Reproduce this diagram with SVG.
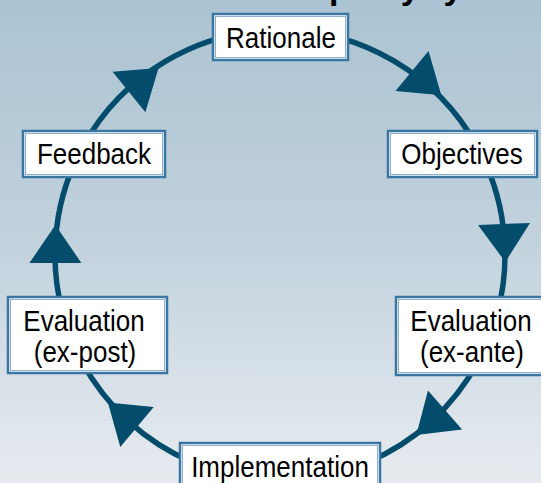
<svg xmlns="http://www.w3.org/2000/svg" xmlns:xlink="http://www.w3.org/1999/xlink" width="541" height="483" viewBox="0 0 541 483">
  <defs>
    <linearGradient id="bg" x1="0" y1="0" x2="0" y2="1">
      <stop offset="0" stop-color="#abc3d2"/>
      <stop offset="0.5" stop-color="#c2d2dd"/>
      <stop offset="1" stop-color="#e7ebf0"/>
    </linearGradient>
    <path id="arrowhead" d="M0,-26 L38,0 L0,26 Z"/>
  </defs>
  <style>
    .ring { fill: none; stroke: #034c6b; stroke-width: 5.5; }
    .head { fill: #034c6b; }
    .box { fill: #ffffff; stroke: #3a76a2; stroke-width: 2.5; }
    .inner { fill: none; stroke: #8fb2cc; stroke-width: 1; }
    .lbl { font-family: "Liberation Sans", Arial, sans-serif; font-size: 26px; fill: #000000; text-anchor: middle; }
    .title { font-family: "Liberation Sans", Arial, sans-serif; font-size: 34px; font-weight: bold; fill: #000000; letter-spacing: -1.5px; }
  </style>
  <rect x="0" y="0" width="541" height="483" fill="url(#bg)"/>
  <text class="title" x="329" y="-1.5">policy cycle</text>

  <g id="connectors">
    <g id="c-rationale-objectives">
      <path class="ring" d="M280,30 A225,225 0 0 1 476.8,145.9"/>
      <use href="#arrowhead" xlink:href="#arrowhead" class="head" transform="translate(412,71) rotate(39.5)"/>
    </g>
    <g id="c-objectives-exante">
      <path class="ring" d="M476.8,145.9 A225,225 0 0 1 497.3,313.2"/>
      <use href="#arrowhead" xlink:href="#arrowhead" class="head" transform="translate(504,224) rotate(88)"/>
    </g>
    <g id="c-exante-implementation">
      <path class="ring" d="M497.3,313.2 A225,225 0 0 1 280,480"/>
      <use href="#arrowhead" xlink:href="#arrowhead" class="head" transform="translate(445,410) rotate(139)"/>
    </g>
    <g id="c-implementation-expost">
      <path class="ring" d="M280,480 A225,225 0 0 1 62.7,313.2"/>
      <use href="#arrowhead" xlink:href="#arrowhead" class="head" transform="translate(137,427) rotate(220)"/>
    </g>
    <g id="c-expost-feedback">
      <path class="ring" d="M62.7,313.2 A225,225 0 0 1 83.2,145.9"/>
      <use href="#arrowhead" xlink:href="#arrowhead" class="head" transform="translate(55.4,263) rotate(-90)"/>
    </g>
    <g id="c-feedback-rationale">
      <path class="ring" d="M83.2,145.9 A225,225 0 0 1 280,30"/>
      <use href="#arrowhead" xlink:href="#arrowhead" class="head" transform="translate(129,92) rotate(-39)"/>
    </g>
  </g>

  <g id="rationale">
    <rect class="box" x="213" y="14" width="135" height="46"/>
    <rect class="inner" x="215.5" y="16.5" width="130" height="41"/>
    <text class="lbl" transform="translate(281,48) scale(1,1.12)">Rationale</text>
  </g>
  <g id="objectives">
    <rect class="box" x="388" y="131" width="149" height="46"/>
    <rect class="inner" x="390.5" y="133.5" width="144" height="41"/>
    <text class="lbl" transform="translate(462,164) scale(1,1.12)">Objectives</text>
  </g>
  <g id="evaluation-ex-ante">
    <rect class="box" x="396" y="297" width="150" height="78"/>
    <rect class="inner" x="398.5" y="299.5" width="145" height="73"/>
    <text class="lbl" transform="translate(471,331) scale(1,1.12)">Evaluation</text>
    <text class="lbl" transform="translate(472,362) scale(1,1.12)">(ex-ante)</text>
  </g>
  <g id="implementation">
    <rect class="box" x="180" y="443" width="200" height="50"/>
    <rect class="inner" x="182.5" y="445.5" width="195" height="45"/>
    <text class="lbl" transform="translate(280,477) scale(1,1.12)">Implementation</text>
  </g>
  <g id="evaluation-ex-post">
    <rect class="box" x="8" y="297" width="159" height="76"/>
    <rect class="inner" x="10.5" y="299.5" width="154" height="71"/>
    <text class="lbl" transform="translate(84,331) scale(1,1.12)">Evaluation</text>
    <text class="lbl" transform="translate(85,362) scale(1,1.12)">(ex-post)</text>
  </g>
  <g id="feedback">
    <rect class="box" x="23" y="131" width="142" height="46"/>
    <rect class="inner" x="25.5" y="133.5" width="137" height="41"/>
    <text class="lbl" transform="translate(94,164) scale(1,1.12)">Feedback</text>
  </g>
</svg>
